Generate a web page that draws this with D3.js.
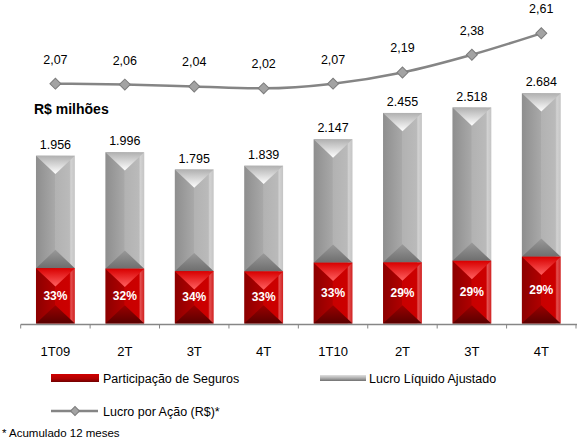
<!DOCTYPE html>
<html>
<head>
<meta charset="utf-8">
<script src="https://cdn.jsdelivr.net/npm/d3@7"></script>
<style>
  body { margin: 0; background: #fff; }
  text { font-family: "Liberation Sans", Arial, sans-serif; fill: #000; }
</style>
</head>
<body>
<script>
// dados
var trimestres = ["1T09", "2T", "3T", "4T", "1T10", "2T", "3T", "4T"];
var lucroAjustado = [1956, 1996, 1795, 1839, 2147, 2455, 2518, 2684];
var partSeguros = [33, 32, 34, 33, 33, 29, 29, 29];   // % do lucro
var lucroPorAcao = [2.07, 2.06, 2.04, 2.02, 2.07, 2.19, 2.38, 2.61];

var width = 577, height = 443;
var base = 323.5;

var svg = d3.select("body").append("svg")
    .attr("width", width)
    .attr("height", height);

var defs = svg.append("defs");
function grad(id, stops, vertical) {
  var g = defs.append("linearGradient").attr("id", id)
      .attr("x1", 0).attr("y1", 0)
      .attr("x2", vertical ? 0 : 1).attr("y2", vertical ? 1 : 0);
  stops.forEach(function(s) {
    g.append("stop").attr("offset", s[0]).attr("stop-color", s[1]);
  });
}
// cinza
grad("gBody", [[0, "#8e8e8e"], [0.48, "#a8a8a8"], [0.5, "#b2b2b2"], [0.86, "#bababa"], [0.9, "#d2d2d2"], [1, "#c4c4c4"]]);
grad("gTop", [[0, "#b0b0b0"], [1, "#ffffff"]], true);
grad("gBot", [[0, "#999999"], [1, "#6e6e6e"]], true);
// vermelho
grad("rBody", [[0, "#8c0000"], [0.48, "#b00000"], [0.5, "#c80000"], [0.86, "#cc0000"], [0.9, "#e45050"], [1, "#d02020"]]);
grad("rTop", [[0, "#d80000"], [1, "#ff6060"]], true);
grad("rBot", [[0, "#9a0000"], [1, "#5a0000"]], true);
grad("legR", [[0, "#d00000"], [0.6, "#b00000"], [1, "#700000"]], true);
grad("legG", [[0, "#e0e0e0"], [0.5, "#b0b0b0"], [1, "#707070"]], true);

var x = d3.scaleBand().domain(d3.range(trimestres.length)).range([20.7, 576]);
var barW = x.bandwidth() * 0.56;
var y = d3.scaleLinear().domain([0, 2684]).range([base, 93.3]);
var y2 = d3.scaleLinear().domain([2.0, 2.61]).range([90.2, 33.3]);

var data = lucroAjustado.map(function(v, i) {
  return { i: i, total: v, pct: partSeguros[i], seg: v * partSeguros[i] / 100 };
});

function segment(g, x0, w, top, bottom, pre) {
  var h = bottom - top, cx = x0 + w / 2, tri = Math.min(w * 0.47, h / 2);
  g.append("rect").attr("x", x0).attr("y", top).attr("width", w).attr("height", h)
    .attr("fill", "url(#" + pre + "Body)");
  g.append("path")
    .attr("d", "M" + x0 + "," + top + "L" + (x0 + w) + "," + top + "L" + cx + "," + (top + tri) + "Z")
    .attr("fill", "url(#" + pre + "Top)");
  g.append("path")
    .attr("d", "M" + x0 + "," + bottom + "L" + (x0 + w) + "," + bottom + "L" + cx + "," + (bottom - tri) + "Z")
    .attr("fill", "url(#" + pre + "Bot)");
}

var bars = svg.append("g").selectAll("g").data(data).enter().append("g");
bars.each(function(d) {
  var g = d3.select(this);
  var x0 = x(d.i) + (x.bandwidth() - barW) / 2;
  segment(g, x0, barW, y(d.total), y(d.seg), "g");
  segment(g, x0, barW, y(d.seg), base, "r");
});

bars.append("text")
  .attr("x", function(d) { return x(d.i) + x.bandwidth() / 2; })
  .attr("y", function(d) { return y(d.total) - 7; })
  .attr("text-anchor", "middle")
  .attr("font-size", "12.5px")
  .text(function(d) { return d3.format(",")(d.total).replace(",", "."); });

bars.append("text")
  .attr("x", function(d) { return x(d.i) + x.bandwidth() / 2; })
  .attr("y", function(d) { return (y(d.seg) + base) / 2 + 4; })
  .attr("text-anchor", "middle")
  .attr("font-size", "12px")
  .attr("font-weight", "bold")
  .style("fill", "#fff")
  .text(function(d) { return d.pct + "%"; });

// eixo
var axis = svg.append("g");
axis.append("line").attr("x1", 20.7).attr("x2", 577).attr("y1", base + 1).attr("y2", base + 1)
  .attr("stroke", "#868686").attr("stroke-width", 1.5);
axis.selectAll(".tk").data(d3.range(trimestres.length + 1)).enter().append("line")
  .attr("x1", function(i) { return 20.7 + i * x.step(); })
  .attr("x2", function(i) { return 20.7 + i * x.step(); })
  .attr("y1", base + 1).attr("y2", base + 5)
  .attr("stroke", "#868686").attr("stroke-width", 1);
axis.selectAll(".lb").data(trimestres).enter().append("text")
  .attr("x", function(d, i) { return x(i) + x.bandwidth() / 2; })
  .attr("y", 356)
  .attr("text-anchor", "middle")
  .attr("font-size", "13px")
  .text(function(d) { return d; });

// linha lucro por acao
var line = d3.line()
  .curve(d3.curveMonotoneX)
  .x(function(d, i) { return x(i) + x.bandwidth() / 2; })
  .y(function(d) { return y2(d); });

svg.append("path").datum(lucroPorAcao)
  .attr("d", line)
  .attr("fill", "none")
  .attr("stroke", "#858585")
  .attr("stroke-width", 2.5);

var diamond = d3.symbol().type(d3.symbolSquare).size(60);
svg.append("g").selectAll("path").data(lucroPorAcao).enter().append("path")
  .attr("d", diamond)
  .attr("transform", function(d, i) { return "translate(" + (x(i) + x.bandwidth() / 2) + "," + y2(d) + ")rotate(45)"; })
  .attr("fill", "#a3a3a3")
  .attr("stroke", "#7c7c7c")
  .attr("stroke-width", 1);

svg.append("g").selectAll("text").data(lucroPorAcao).enter().append("text")
  .attr("x", function(d, i) { return x(i) + x.bandwidth() / 2; })
  .attr("y", function(d) { return y2(d) - 20; })
  .attr("text-anchor", "middle")
  .attr("font-size", "12.5px")
  .text(function(d) { return d3.format(".2f")(d).replace(".", ","); });

svg.append("text").attr("x", 34).attr("y", 114)
  .attr("font-size", "14px").attr("font-weight", "bold")
  .text("R$ milhões");

// legenda
var leg = svg.append("g");
leg.append("rect").attr("x", 51).attr("y", 374).attr("width", 48).attr("height", 8)
  .attr("fill", "url(#legR)");
leg.append("text").attr("x", 103).attr("y", 383).attr("font-size", "12.5px").text("Participação de Seguros");
leg.append("rect").attr("x", 320).attr("y", 375).attr("width", 46).attr("height", 6)
  .attr("fill", "url(#legG)");
leg.append("text").attr("x", 369).attr("y", 383).attr("font-size", "12.5px").text("Lucro Líquido Ajustado");
leg.append("line").attr("x1", 51).attr("x2", 98).attr("y1", 411).attr("y2", 411)
  .attr("stroke", "#858585").attr("stroke-width", 2.5);
leg.append("path").attr("d", d3.symbol().type(d3.symbolSquare).size(40))
  .attr("transform", "translate(75,411)rotate(45)")
  .attr("fill", "#a3a3a3").attr("stroke", "#7c7c7c");
leg.append("text").attr("x", 103).attr("y", 416).attr("font-size", "12.5px").text("Lucro por Ação (R$)*");

svg.append("text").attr("x", 2).attr("y", 437).attr("font-size", "11.5px").text("* Acumulado 12 meses");
</script>
</body>
</html>
